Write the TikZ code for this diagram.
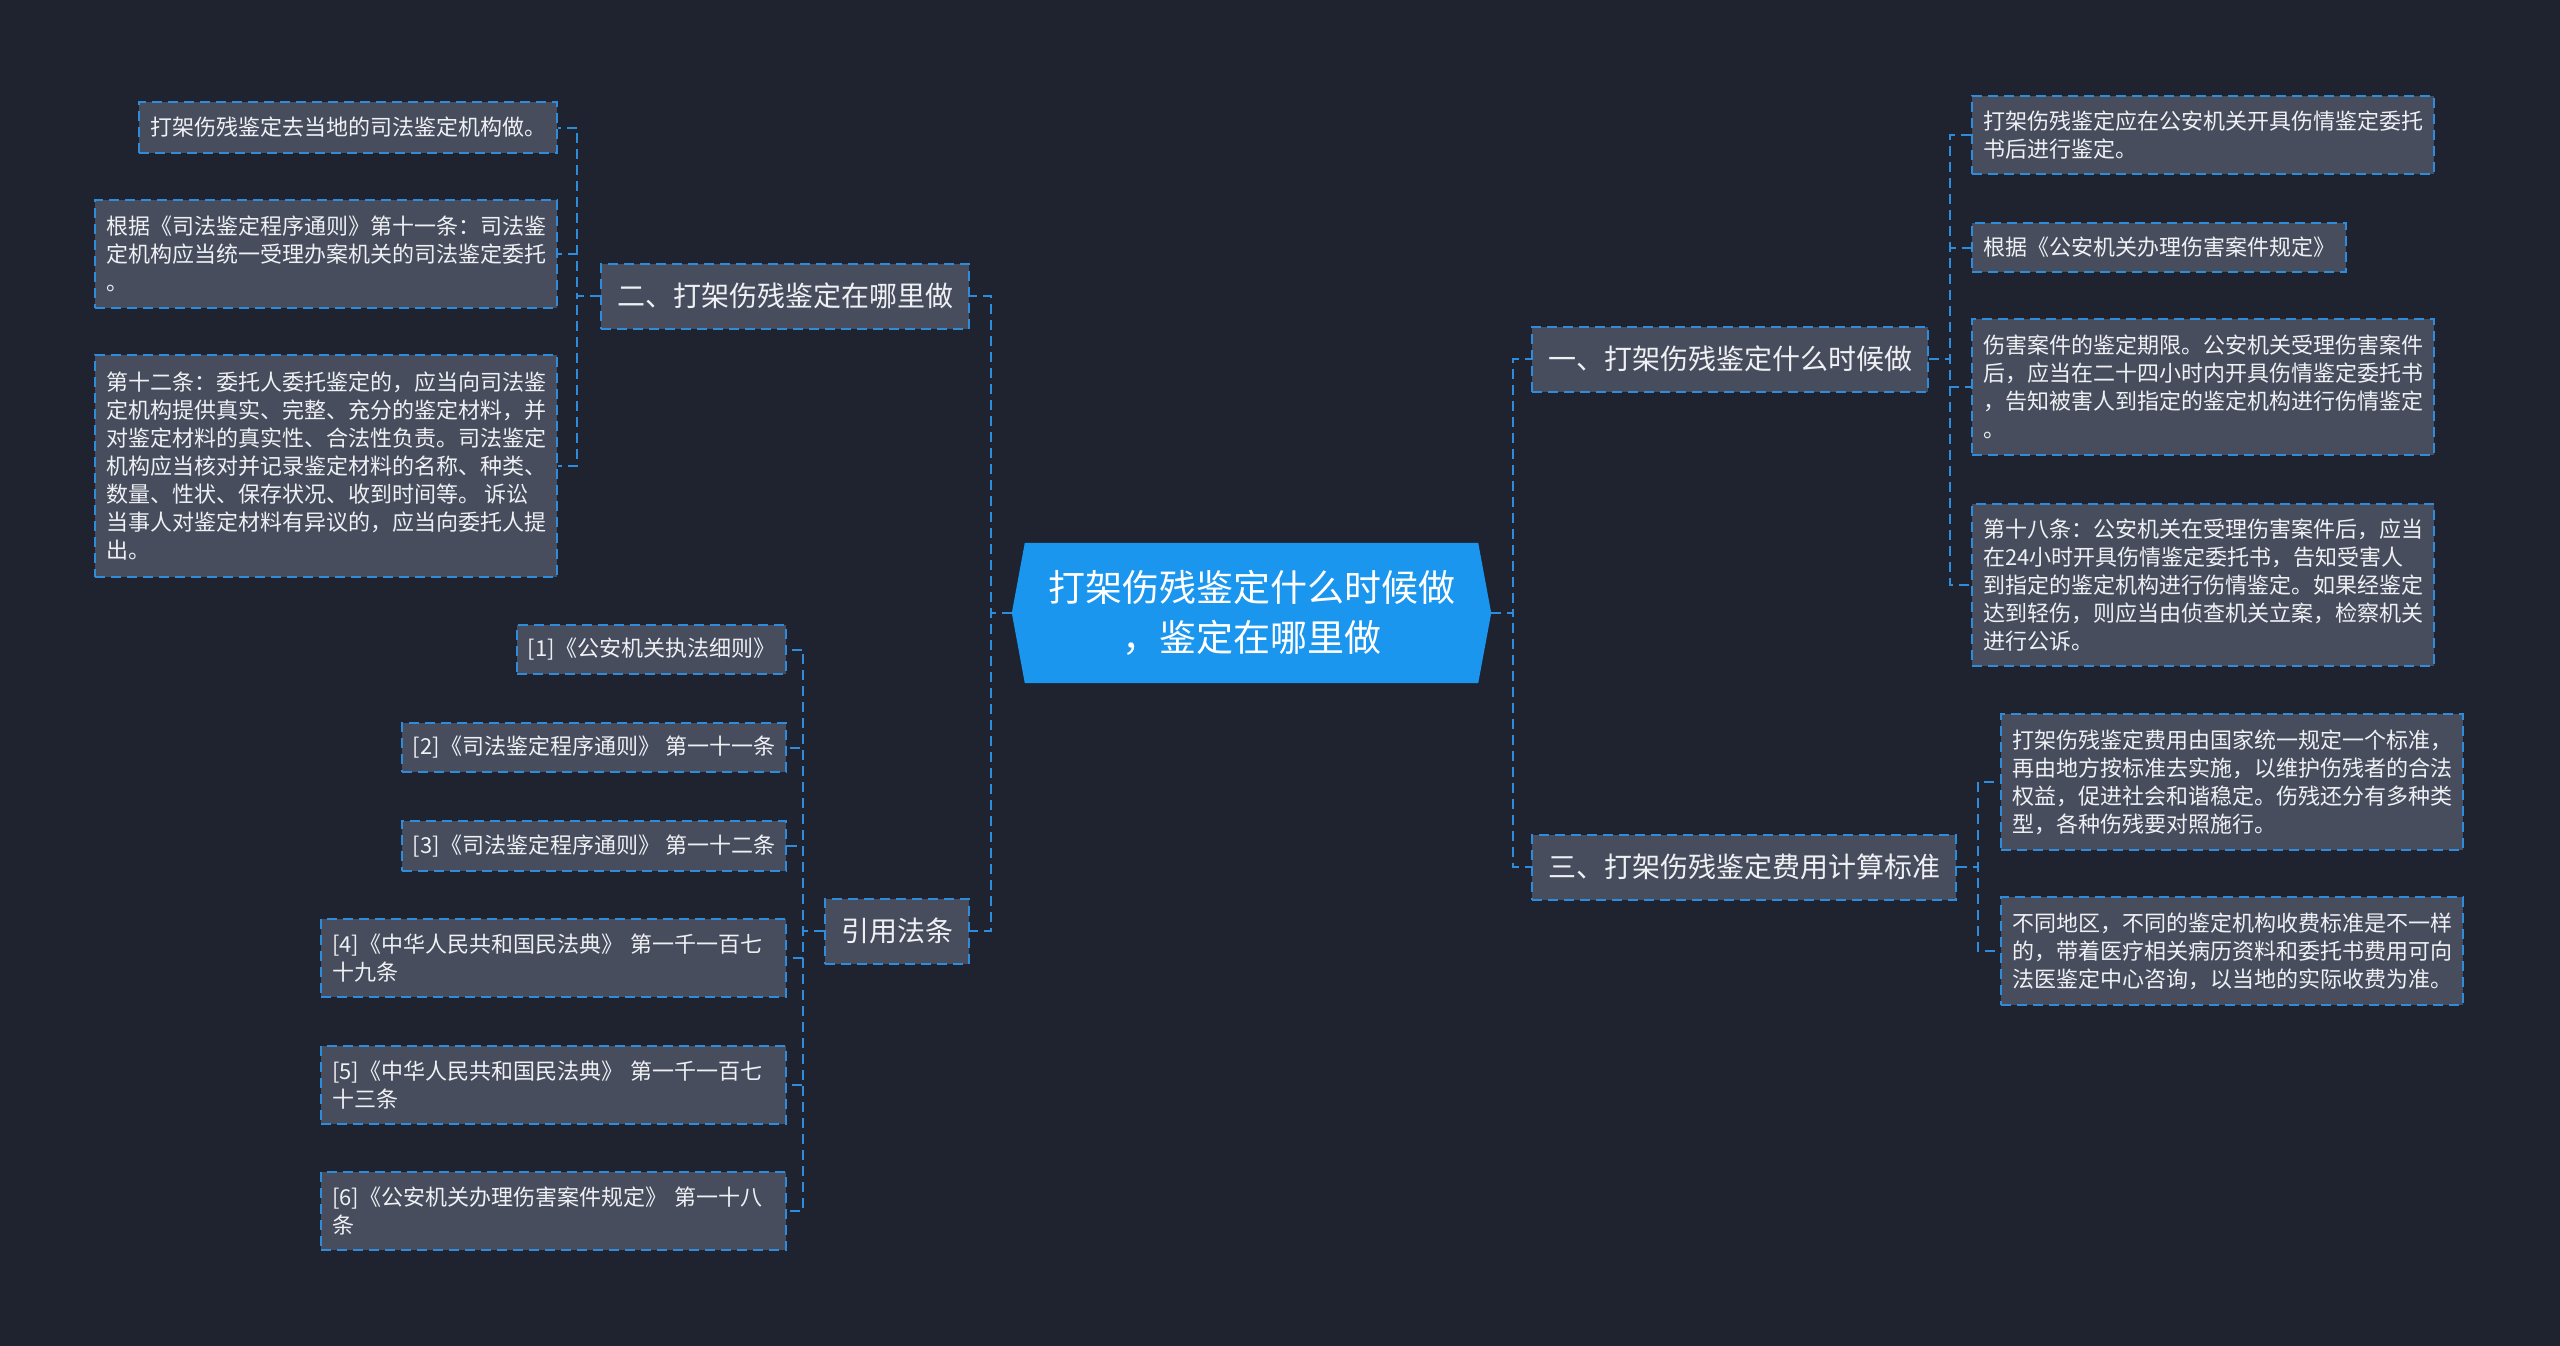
\documentclass[tikz,border=0pt]{standalone}
\usepackage{fontspec}
\setmainfont{Noto Sans CJK SC}
\usetikzlibrary{backgrounds}
\definecolor{bgc}{HTML}{1F2330}
\definecolor{boxc}{HTML}{474D5C}
\definecolor{bordc}{HTML}{2D8CDB}
\definecolor{cenc}{HTML}{1A96EF}
\definecolor{txtc}{HTML}{EEF0F4}
\begin{document}
\begin{tikzpicture}[x=1pt,y=-1pt,
 dsh/.style={dash pattern=on 10pt off 6pt, line width=2pt, draw=bordc},
 leaf/.style={dsh, fill=boxc, text=txtc, font=\fontsize{22}{28}\selectfont, align=left, inner xsep=11pt, inner ysep=0pt},
 topic/.style={dsh, fill=boxc, text=txtc, font=\fontsize{28}{34}\selectfont, inner xsep=16pt, inner ysep=0pt, minimum height=65pt},
 conn/.style={dsh},
 central/.style={text=white, font=\fontsize{37}{50}\selectfont, align=center, minimum width=479pt, minimum height=140pt, inner sep=0pt}]
\useasboundingbox (0,0) rectangle (2560,1345);

% central
\node[central] (c) at (1251.5,613) {打架伤残鉴定什么时候做\\，鉴定在哪里做};

% topics
\node[topic, anchor=east] (L2) at (970,296) {二、打架伤残鉴定在哪里做};
\node[topic, anchor=east] (ref) at (970,931) {引用法条};
\node[topic, anchor=west] (R1) at (1531,359) {一、打架伤残鉴定什么时候做};
\node[topic, anchor=west] (R3) at (1531,867) {三、打架伤残鉴定费用计算标准};

% left leaves
\node[leaf, anchor=north east, minimum height=51pt] (a1) at (558,101) {打架伤残鉴定去当地的司法鉴定机构做。};
\node[leaf, anchor=north east, minimum height=108pt] (a2) at (558,199) {根据《司法鉴定程序通则》第十一条：司法鉴\\定机构应当统一受理办案机关的司法鉴定委托\\。};
\node[leaf, anchor=north east, minimum height=222pt] (a3) at (558,354) {第十二条：委托人委托鉴定的，应当向司法鉴\\定机构提供真实、完整、充分的鉴定材料，并\\对鉴定材料的真实性、合法性负责。司法鉴定\\机构应当核对并记录鉴定材料的名称、种类、\\数量、性状、保存状况、收到时间等。 诉讼\\当事人对鉴定材料有异议的，应当向委托人提\\出。};

% references
\node[leaf, anchor=north east, minimum height=49pt] (r1) at (787,624) {[1]《公安机关执法细则》};
\node[leaf, anchor=north east, minimum height=49pt] (r2) at (787,722) {[2]《司法鉴定程序通则》 第一十一条};
\node[leaf, anchor=north east, minimum height=50pt] (r3) at (787,820) {[3]《司法鉴定程序通则》 第一十二条};
\node[leaf, anchor=north east, minimum height=78pt, text width=443pt] (r4) at (787,918) {[4]《中华人民共和国民法典》 第一千一百七\\十九条};
\node[leaf, anchor=north east, minimum height=78pt, text width=443pt] (r5) at (787,1045) {[5]《中华人民共和国民法典》 第一千一百七\\十三条};
\node[leaf, anchor=north east, minimum height=78pt, text width=443pt] (r6) at (787,1171) {[6]《公安机关办理伤害案件规定》 第一十八\\条};

% right R1 leaves
\node[leaf, anchor=north west, minimum height=78pt] (b1) at (1971,95) {打架伤残鉴定应在公安机关开具伤情鉴定委托\\书后进行鉴定。};
\node[leaf, anchor=north west, minimum height=49pt] (b2) at (1971,222) {根据《公安机关办理伤害案件规定》};
\node[leaf, anchor=north west, minimum height=136pt] (b3) at (1971,318) {伤害案件的鉴定期限。公安机关受理伤害案件\\后，应当在二十四小时内开具伤情鉴定委托书\\，告知被害人到指定的鉴定机构进行伤情鉴定\\。};
\node[leaf, anchor=north west, minimum height=162pt] (b4) at (1971,503) {第十八条：公安机关在受理伤害案件后，应当\\在24小时开具伤情鉴定委托书，告知受害人\\到指定的鉴定机构进行伤情鉴定。如果经鉴定\\达到轻伤，则应当由侦查机关立案，检察机关\\进行公诉。};

% right R3 leaves
\node[leaf, anchor=north west, minimum height=136pt] (d1) at (2000,713) {打架伤残鉴定费用由国家统一规定一个标准，\\再由地方按标准去实施，以维护伤残者的合法\\权益，促进社会和谐稳定。伤残还分有多种类\\型，各种伤残要对照施行。};
\node[leaf, anchor=north west, minimum height=108pt] (d2) at (2000,896) {不同地区，不同的鉴定机构收费标准是不一样\\的，带着医疗相关病历资料和委托书费用可向\\法医鉴定中心咨询，以当地的实际收费为准。};

% background and central shape
\begin{scope}[on background layer]
\fill[bgc] (-10,-10) rectangle (2570,1355);
\fill[cenc] ([xshift=13pt]c.north west) -- ([xshift=-13pt]c.north east) -- (c.east) -- ([xshift=-13pt]c.south east) -- ([xshift=13pt]c.south west) -- (c.west) -- cycle;
\end{scope}

% connectors
\draw[conn] (c.west) -- ++(-21,0) |- (L2.east);
\draw[conn] (c.west) -- ++(-21,0) |- (ref.east);
\draw[conn] (c.east) -- ++(22,0) |- (R1.west);
\draw[conn] (c.east) -- ++(22,0) |- (R3.west);

\foreach \n in {a1,a2,a3} \draw[conn] (L2.west) -- ++(-23,0) |- (\n.east);
\foreach \n in {r1,r2,r3,r4,r5,r6} \draw[conn] (ref.west) -- ++(-21,0) |- (\n.east);
\foreach \n in {b1,b2,b3,b4} \draw[conn] (R1.east) -- ++(21,0) |- (\n.west);
\foreach \n in {d1,d2} \draw[conn] (R3.east) -- ++(21,0) |- (\n.west);
\end{tikzpicture}
\end{document}
